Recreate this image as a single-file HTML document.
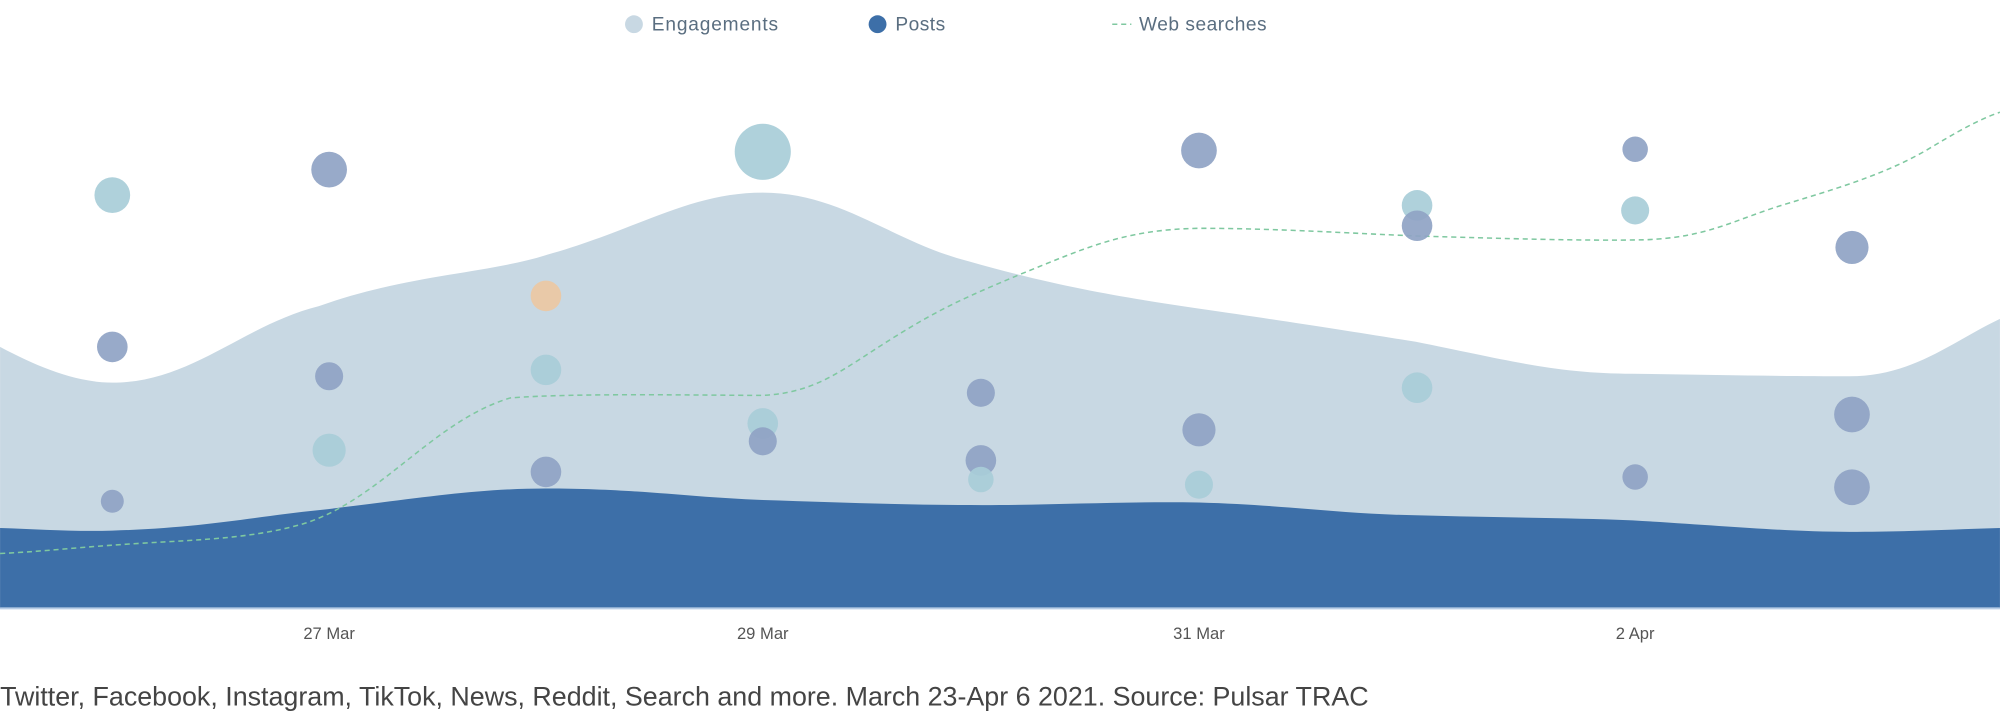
<!DOCTYPE html>
<html><head><meta charset="utf-8"><style>
html,body{margin:0;padding:0;background:#fff;width:2000px;height:715px;overflow:hidden}
svg{display:block}
</style></head><body>
<svg width="2000" height="715" viewBox="0 0 1568 560.6" xmlns="http://www.w3.org/2000/svg" font-family="'Liberation Sans', sans-serif">
<circle cx="497" cy="19" r="7" fill="#c8d8e3"/>
<text x="511" y="24" font-size="15" fill="#5a6e80" textLength="99">Engagements</text>
<circle cx="688" cy="19" r="7" fill="#3d6fa8"/>
<text x="702" y="24" font-size="15" fill="#5a6e80" textLength="39">Posts</text>
<line x1="872" y1="19" x2="887" y2="19" stroke="#7fc8a0" stroke-width="1.2" stroke-dasharray="4,3"/>
<text x="893" y="24" font-size="15" fill="#5a6e80" textLength="100">Web searches</text>

<path d="M0,272 C30,288 60,300 88,300 C150,300 190,255 250,240 C320,215 380,215 428,200 C500,180 540,151 598,151 C660,151 700,190 760,205 C830,225 880,233 940,242 C1010,252 1060,260 1110,268 C1180,282 1220,293 1280,293 C1340,294 1400,295 1450,295 C1500,295 1530,268 1568,250 L1568,477 L0,477 Z" fill="#c8d8e3"/>
<path d="M0,414 C30,415 60,417 88,416 C160,414 200,405 250,400 C320,392 370,383 428,383 C500,383 540,390 598,392 C660,394 710,396 770,396 C830,396 880,393 940,394 C1010,396 1050,403 1110,404 C1180,406 1230,406 1280,408 C1350,412 1400,417 1450,417 C1500,417 1530,415 1568,414 L1568,477 L0,477 Z" fill="#3d6fa8"/>
<line x1="0" y1="477" x2="1568" y2="477" stroke="#b8cde6" stroke-width="1.5"/>

<path d="M0,434 C40,432 60,429 110,426 C160,423 200,422 240,410 C300,390 340,330 400,312 C450,308 550,310 598,310 C640,308 660,290 700,265 C740,240 760,232 800,215 C850,195 880,180 940,179 C1000,179 1060,183 1110,185 C1180,187 1240,189 1290,188 C1340,186 1360,172 1400,160 C1450,145 1480,135 1510,118 C1530,106 1550,94 1568,88" fill="none" stroke="#7fc8a0" stroke-width="1.2" stroke-dasharray="4,3"/>

<g fill-opacity="0.92">
<circle cx="88" cy="153" r="14" fill="#a8cdd8"/>
<circle cx="88" cy="272" r="12" fill="#8fa3c4"/>
<circle cx="88" cy="393" r="9" fill="#8fa3c4"/>
<circle cx="258" cy="133" r="14" fill="#8fa3c4"/>
<circle cx="258" cy="295" r="11" fill="#8fa3c4"/>
<circle cx="258" cy="353" r="13" fill="#a8cdd8"/>
<circle cx="428" cy="232" r="12" fill="#ecc8a3"/>
<circle cx="428" cy="290" r="12" fill="#a8cdd8"/>
<circle cx="428" cy="370" r="12" fill="#8fa3c4"/>
<circle cx="598" cy="119" r="22" fill="#a8cdd8"/>
<circle cx="598" cy="332" r="12" fill="#a8cdd8"/>
<circle cx="598" cy="346" r="11" fill="#8fa3c4"/>
<circle cx="769" cy="308" r="11" fill="#8fa3c4"/>
<circle cx="769" cy="361" r="12" fill="#8fa3c4"/>
<circle cx="769" cy="376" r="10" fill="#a8cdd8"/>
<circle cx="940" cy="118" r="14" fill="#8fa3c4"/>
<circle cx="940" cy="337" r="13" fill="#8fa3c4"/>
<circle cx="940" cy="380" r="11" fill="#a8cdd8"/>
<circle cx="1111" cy="161" r="12" fill="#a8cdd8"/>
<circle cx="1111" cy="177" r="12" fill="#8fa3c4"/>
<circle cx="1111" cy="304" r="12" fill="#a8cdd8"/>
<circle cx="1282" cy="117" r="10" fill="#8fa3c4"/>
<circle cx="1282" cy="165" r="11" fill="#a8cdd8"/>
<circle cx="1282" cy="374" r="10" fill="#8fa3c4"/>
<circle cx="1452" cy="194" r="13" fill="#8fa3c4"/>
<circle cx="1452" cy="325" r="14" fill="#8fa3c4"/>
<circle cx="1452" cy="382" r="14" fill="#8fa3c4"/>
</g>

<g font-size="13" fill="#555" text-anchor="middle">
<text x="258" y="501">27 Mar</text>
<text x="598" y="501">29 Mar</text>
<text x="940" y="501">31 Mar</text>
<text x="1282" y="501">2 Apr</text>
</g>
<text x="0" y="553" font-size="21" fill="#444" textLength="1073" lengthAdjust="spacingAndGlyphs">Twitter, Facebook, Instagram, TikTok, News, Reddit, Search and more. March 23-Apr 6 2021. Source: Pulsar TRAC</text>
</svg>
</body></html>
